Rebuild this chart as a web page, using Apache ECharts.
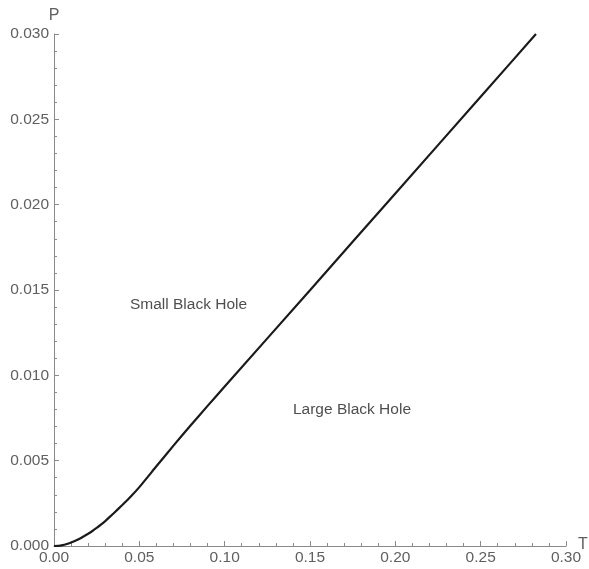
<!DOCTYPE html>
<html>
<head>
<meta charset="utf-8">
<script src="https://cdn.jsdelivr.net/npm/echarts@6/dist/echarts.min.js"></script>
<style>
html,body{margin:0;padding:0;background:#fff;}
#c{width:589px;height:569px;}
</style>
</head>
<body>
<div id="c"></div>
<script>
const T = [0, 0.0025, 0.005, 0.0075, 0.01, 0.0125, 0.015, 0.0175, 0.02, 0.0225, 0.025, 0.0275, 0.03, 0.035, 0.04, 0.045, 0.05, 0.06, 0.07, 0.08, 0.09, 0.1, 0.15, 0.2, 0.25, 0.2824];
const P = [0, 0.00001, 0.00005, 0.00012, 0.00021, 0.00031, 0.00043, 0.00057, 0.00072, 0.00088, 0.00106, 0.00125, 0.00146, 0.00192, 0.0024, 0.0029, 0.00345, 0.00467, 0.00588, 0.00706, 0.00821, 0.00934, 0.01499, 0.02066, 0.02632, 0.0300];
const regionLabels = ['Small Black Hole', 'Large Black Hole'];
const regionT = [0.0788, 0.1746];
const regionP = [0.01412, 0.00797];
const xTicks = [0, 0.05, 0.10, 0.15, 0.20, 0.25, 0.30];
const yTicks = [0, 0.005, 0.010, 0.015, 0.020, 0.025, 0.030];

const chart = echarts.init(document.getElementById('c'), null, {renderer: 'canvas'});
const axisColor = '#8a8a8a';
const labelColor = '#606060';
const font = 'Liberation Sans, Arial, sans-serif';
chart.setOption({
  animation: false,
  grid: {left: 54, right: 23, top: 34, bottom: 23, containLabel: false, outerBoundsMode: 'none'},
  xAxis: {
    type: 'value', min: xTicks[0], max: xTicks[xTicks.length - 1], interval: 0.05,
    name: 'T', nameLocation: 'end', nameGap: 12, nameMoveOverlap: false,
    nameTextStyle: {color: labelColor, fontSize: 16, fontFamily: font, align: 'left', verticalAlign: 'bottom', padding: [0, 0, -7, 0]},
    axisLine: {show: true, lineStyle: {color: axisColor, width: 1}},
    axisTick: {show: true, inside: true, length: 5, lineStyle: {color: axisColor}},
    minorTick: {show: true, splitNumber: 5, length: 3, lineStyle: {color: axisColor}},
    splitLine: {show: false},
    axisLabel: {color: labelColor, fontSize: 15.5, fontFamily: font, margin: 4,
      formatter: v => v.toFixed(2)}
  },
  yAxis: {
    type: 'value', min: yTicks[0], max: yTicks[yTicks.length - 1], interval: 0.005,
    name: 'P', nameLocation: 'end', nameGap: 10, nameMoveOverlap: false,
    nameTextStyle: {color: labelColor, fontSize: 16, fontFamily: font, align: 'center', verticalAlign: 'bottom'},
    axisLine: {show: true, lineStyle: {color: axisColor, width: 1}},
    axisTick: {show: true, inside: true, length: 5, lineStyle: {color: axisColor}},
    minorTick: {show: true, splitNumber: 5, length: 3, lineStyle: {color: axisColor}},
    splitLine: {show: false},
    axisLabel: {color: labelColor, fontSize: 15.5, fontFamily: font, margin: 5,
      formatter: v => v.toFixed(3)}
  },
  series: [
    {
      type: 'line', data: T.map((t, i) => [t, P[i]]), smooth: 0.15, showSymbol: false,
      lineStyle: {color: '#1a1a1a', width: 2.2}, clip: false
    },
    {
      type: 'scatter', symbolSize: 0,
      data: regionLabels.map((s, i) => ({value: [regionT[i], regionP[i]], name: s})),
      label: {show: true, position: 'inside', formatter: p => p.name, color: '#222', fontSize: 15.5, fontFamily: font}
    }
  ]
});
</script>
</body>
</html>
